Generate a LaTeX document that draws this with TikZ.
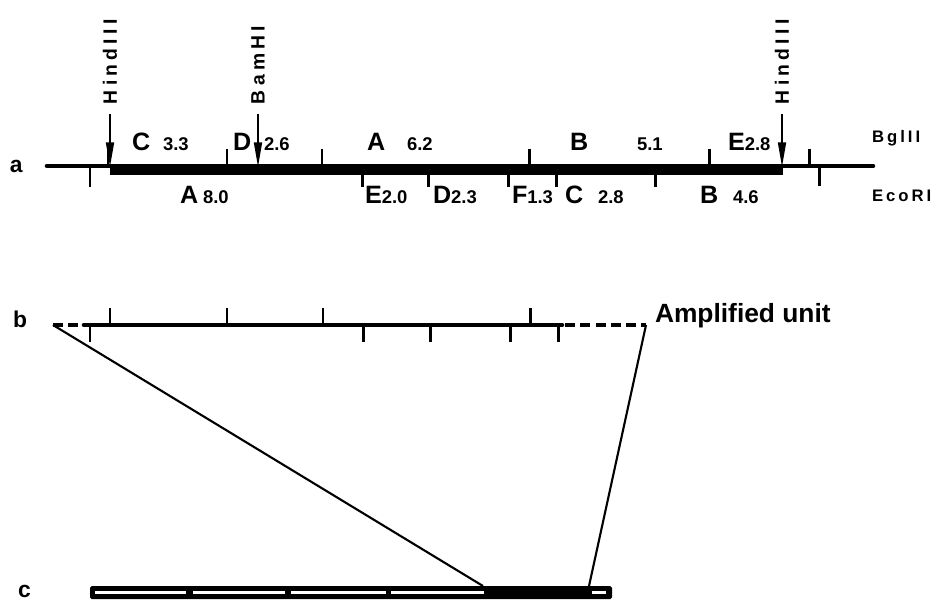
\documentclass[tikz,border=0pt]{standalone}
\usepackage{fontspec}
\setmainfont{Liberation Sans}
\newfontfamily\spacedfont[LetterSpace=22, UprightFont={* Bold}]{Liberation Sans}
\newfontfamily\enzymefont[LetterSpace=18, UprightFont={* Bold}]{Liberation Sans}
\newcommand\kbsz{\fontsize{10.5}{11}\selectfont}
\usetikzlibrary{arrows.meta}

\begin{document}
\begin{tikzpicture}[x=0.02cm, y=-0.02cm,
every node/.style={inner sep=0pt, outer sep=0pt},
site/.style={font=\fontsize{11}{12}\spacedfont, rotate=90, anchor=west},
enzyme/.style={font=\fontsize{9.5}{10}\enzymefont, anchor=base west},
frag/.style={font=\bfseries\fontsize{14.3}{15}\selectfont, anchor=base west},
kb/.style={font=\bfseries\kbsz, anchor=base west},
row/.style={font=\bfseries\fontsize{13}{13}\selectfont, anchor=base west},
dna/.style={line width=2.6pt, line cap=round},
amp/.style={line width=5.4pt},
dnadash/.style={line width=2.6pt, dash pattern=on 5.7pt off 3pt},
cut/.style={line width=1.7pt},
cutarrow/.style={-{Triangle[length=14pt,width=4.5pt]}, line width=1.1pt, shorten <=5.5pt},
mapline/.style={line width=1.2pt},
slit/.style={white, line width=1.4pt}
]
\useasboundingbox (0,0) rectangle (935,600);

% Row labels
\node[row] (rowa) at (10,172) {a};
\node[row] (rowb) at (13,327) {b};
\node[row] (rowc) at (18,597) {c};

% Map a
\draw[dna] (47,166) -- (873,166);
\draw[amp] (110,170) -- (783,170);

% BglII sites (above)
\draw[cut] (108,166) -- (108,149);
\draw[cut] (227,166) -- (227,149);
\draw[cut] (322,166) -- (322,149);
\draw[cut] (529,166) -- (529,149);
\draw[cut] (709,166) -- (709,149);
\draw[cut] (809,166) -- (809,149);

% EcoRI sites (below)
\draw[cut] (90,166) -- (90,187);
\draw[cut] (362,166) -- (362,187);
\draw[cut] (428,166) -- (428,187);
\draw[cut] (508,166) -- (508,187);
\draw[cut] (556,166) -- (556,187);
\draw[cut] (655,166) -- (655,187);
\draw[cut] (819,166) -- (819,186);

% HindIII and BamHI
\node[site] (hindL) at (110,104) {HindIII};
\node[site] (bam) at (258,104) {BamHI};
\node[site] (hindR) at (782,104) {HindIII};
\coordinate (hL) at (110,167);
\coordinate (bm) at (258,167);
\coordinate (hR) at (782,167);
\draw[cutarrow] (hindL.west) -- (hL);
\draw[cutarrow] (bam.west) -- (bm);
\draw[cutarrow] (hindR.west) -- (hR);

% BglII fragments
\node[frag] (gC) at (132,150) {C};
\node[kb] (gCkb) at (163,150) {3.3};
\node[frag] (gD) at (233,150) {D};
\node[kb] (gDkb) at (264,150) {2.6};
\node[frag] (gA) at (367,150) {A};
\node[kb] (gAkb) at (407,150) {6.2};
\node[frag] (gB) at (570,150) {B};
\node[kb] (gBkb) at (637,150) {5.1};
\node[frag] (gE) at (728,150) {E{\kbsz 2.8}};

% EcoRI fragments
\node[frag] (rA) at (180,203) {A};
\node[kb] (rAkb) at (203,203) {8.0};
\node[frag] (rE) at (365,203) {E{\kbsz 2.0}};
\node[frag] (rD) at (433,203) {D{\kbsz 2.3}};
\node[frag] (rF) at (512,203) {F{\kbsz 1.3}};
\node[frag] (rC) at (565,203) {C};
\node[kb] (rCkb) at (598,203) {2.8};
\node[frag] (rB) at (700,203) {B};
\node[kb] (rBkb) at (733,203) {4.6};

\node[enzyme] (bgl) at (872,142) {BglII};
\node[enzyme] (eco) at (872,201) {EcoRI};

% Map b
\coordinate (bL) at (53,325);
\coordinate (bR) at (646,325);
\draw[dnadash] (bL) -- (84,325);
\draw[dna] (84,325) -- (562,325);
\draw[dnadash] (565,325) -- (bR);
\draw[cut] (110,325) -- (110,308);
\draw[cut] (227,325) -- (227,308);
\draw[cut] (323,325) -- (323,308);
\draw[cut] (530,325) -- (530,308);
\draw[cut] (90,325) -- (90,342);
\draw[cut] (363,325) -- (363,342);
\draw[cut] (430,325) -- (430,342);
\draw[cut] (510,325) -- (510,342);
\draw[cut] (558,325) -- (558,342);
\node[font=\bfseries\fontsize{15}{15}\selectfont, anchor=base west] (ampunit) at (655,322) {Amplified unit};

% Chromosome c
\fill[rounded corners=1pt] (90,586) rectangle (612,599);
\draw[slit] (95,592.5) -- (186,592.5);
\draw[slit] (193,592.5) -- (285,592.5);
\draw[slit] (291,592.5) -- (386,592.5);
\draw[slit] (391,592.5) -- (484,592.5);
\draw[slit] (592,592.5) -- (606,592.5);
\coordinate (cL) at (483,586);
\coordinate (cR) at (589,586);

% Amplified unit location
\draw[mapline] (bL) -- (cL);
\draw[mapline] (bR) -- (cR);

\end{tikzpicture}
\end{document}
